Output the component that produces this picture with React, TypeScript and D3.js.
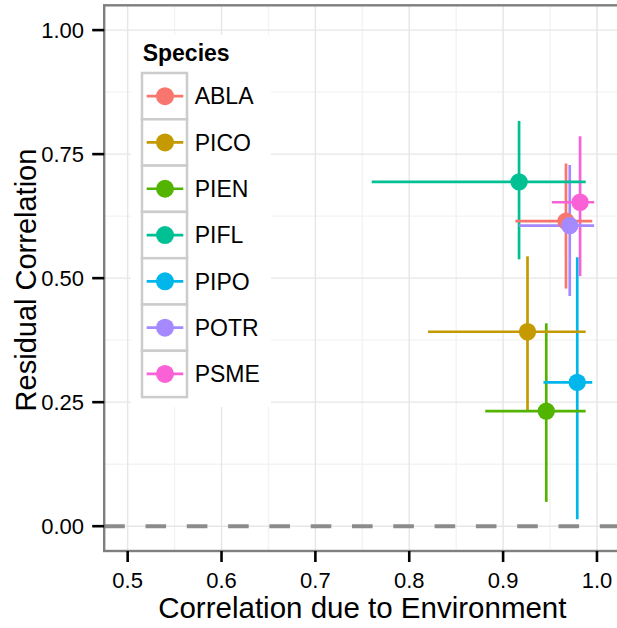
import React from "react";
import * as d3 from "d3";

const species = ["ABLA", "PICO", "PIEN", "PIFL", "PIPO", "POTR", "PSME"];
const envCor = [0.967, 0.926, 0.946, 0.917, 0.979, 0.971, 0.982];
const envLow = [0.913, 0.820, 0.881, 0.760, 0.943, 0.917, 0.952];
const envHigh = [0.995, 0.988, 0.988, 0.988, 0.995, 0.997, 0.997];
const resCor = [0.615, 0.392, 0.232, 0.694, 0.290, 0.606, 0.653];
const resLow = [0.479, 0.234, 0.049, 0.538, 0.014, 0.464, 0.504];
const resHigh = [0.731, 0.544, 0.409, 0.817, 0.542, 0.728, 0.786];
const colors = ["#F8766D", "#C49A00", "#53B400", "#00C094", "#00B6EB", "#A58AFF", "#FB61D7"];

const xTicks = [0.5, 0.6, 0.7, 0.8, 0.9, 1.0];
const xMinor = [0.55, 0.65, 0.75, 0.85, 0.95];
const yTicks = [0, 0.25, 0.5, 0.75, 1.0];
const yMinor = [0.125, 0.375, 0.625, 0.875];

const W = 617;
const H = 628;
const FONT = "'Liberation Sans', Arial, Helvetica, sans-serif";

export default function App() {
  const left = 104.2;
  const top = 5.3;
  const bottom = 551;
  const x = d3.scaleLinear().domain([0.475, 1.025]).range([left, left + 0.55 * 938.6]);
  const y = d3.scaleLinear().domain([-0.05, 1.05]).range([bottom, top]);
  const right = x(1.025);
  const data = species.map((s, i) => ({
    s,
    x: envCor[i],
    xl: envLow[i],
    xh: envHigh[i],
    y: resCor[i],
    yl: resLow[i],
    yh: resHigh[i],
    c: colors[i],
  }));
  const keyTop = 73;
  const keyH = 46.3;
  const keyX = 142;
  const keyW = 45;

  return (
    <svg
      width={W}
      height={H}
      style={{ position: "absolute", left: 0, top: 0, display: "block", background: "#fff" }}
      fontFamily={FONT}
    >
      <rect x={0} y={0} width={W} height={H} fill="#fff" />
      <defs>
        <clipPath id="panel">
          <rect x={left} y={top} width={right - left} height={bottom - top} />
        </clipPath>
      </defs>
      <g clipPath="url(#panel)">
        {xMinor.map((v) => (
          <line key={"xm" + v} x1={x(v)} x2={x(v)} y1={top} y2={bottom} stroke="#f3f3f3" strokeWidth={1.4} />
        ))}
        {yMinor.map((v) => (
          <line key={"ym" + v} x1={left} x2={right} y1={y(v)} y2={y(v)} stroke="#f3f3f3" strokeWidth={1.4} />
        ))}
        {xTicks.map((v) => (
          <line key={"xg" + v} x1={x(v)} x2={x(v)} y1={top} y2={bottom} stroke="#e6e6e6" strokeWidth={1.4} />
        ))}
        {yTicks.map((v) => (
          <line key={"yg" + v} x1={left} x2={right} y1={y(v)} y2={y(v)} stroke="#e6e6e6" strokeWidth={1.4} />
        ))}
        <line
          x1={left}
          x2={right}
          y1={y(0)}
          y2={y(0)}
          stroke="#8c8c8c"
          strokeWidth={4}
          strokeDasharray="20.6 20.7"
        />
        {data.map((d) => (
          <line key={"v" + d.s} x1={x(d.x)} x2={x(d.x)} y1={y(d.yl)} y2={y(d.yh)} stroke={d.c} strokeWidth={2.7} />
        ))}
        {data.map((d) => (
          <line key={"h" + d.s} x1={x(d.xl)} x2={x(d.xh)} y1={y(d.y)} y2={y(d.y)} stroke={d.c} strokeWidth={2.7} />
        ))}
        {data.map((d) => (
          <circle key={"p" + d.s} cx={x(d.x)} cy={y(d.y)} r={8.7} fill={d.c} />
        ))}
      </g>
      {/* panel border */}
      <rect x={left} y={top} width={right - left} height={bottom - top} fill="none" stroke="#7f7f7f" strokeWidth={2.4} />

      {/* y axis */}
      {yTicks.map((v) => (
        <g key={"yt" + v}>
          <line x1={left - 12} x2={left} y1={y(v)} y2={y(v)} stroke="#000" strokeWidth={2.6} />
          <text x={84} y={y(v) + 8} textAnchor="end" fontSize={22} fill="#000">
            {d3.format(".2f")(v)}
          </text>
        </g>
      ))}
      {/* x axis */}
      {xTicks.map((v) => (
        <g key={"xt" + v}>
          <line x1={x(v)} x2={x(v)} y1={bottom} y2={bottom + 11} stroke="#000" strokeWidth={2.6} />
          <text x={x(v)} y={588} textAnchor="middle" fontSize={22} fill="#000">
            {d3.format(".1f")(v)}
          </text>
        </g>
      ))}
      <text x={(left + right) / 2} y={618} textAnchor="middle" fontSize={29.5} fill="#000">
        Correlation due to Environment
      </text>
      <text
        transform={`translate(36, 280) rotate(-90)`}
        textAnchor="middle"
        fontSize={29}
        fill="#000"
      >
        Residual Correlation
      </text>

      {/* legend */}
      <rect x={131} y={35} width={140} height={372} fill="#fff" />
      <text x={142.7} y={61} fontSize={23} fontWeight="bold" fill="#000">
        Species
      </text>
      {data.map((d, i) => {
        const cy = keyTop + keyH * i + keyH / 2;
        return (
          <g key={"lg" + d.s}>
            <rect x={keyX} y={keyTop + keyH * i} width={keyW} height={keyH} fill="#fff" stroke="#cccccc" strokeWidth={2.5} />
            <line x1={keyX + 4.7} x2={keyX + 41.3} y1={cy} y2={cy} stroke={d.c} strokeWidth={2.7} />
            <circle cx={keyX + 23} cy={cy} r={9} fill={d.c} />
            <text x={194.7} y={cy + 8.2} fontSize={23} fill="#000">
              {d.s}
            </text>
          </g>
        );
      })}
    </svg>
  );
}
